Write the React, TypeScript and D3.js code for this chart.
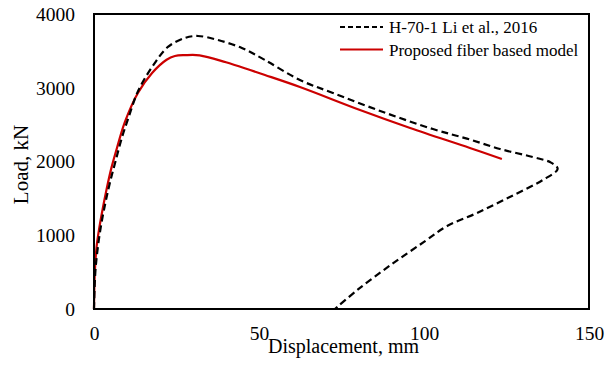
import React, { useEffect, useRef } from 'react';
import * as d3 from 'd3';

// H-70-1 test (Li et al., 2016) - displacement (mm) / load (kN)
const testDisp = [0, 0.4, 1.2, 2.2, 3.5, 4.8, 6.5, 8.5, 10.5, 13.3, 17.6, 22.4, 27.6, 31.5, 37.6, 44.8, 51.8, 62.4, 72.4, 87.6, 102.7, 113, 123, 133, 138.5, 140.5, 136, 126, 116, 107, 100, 90, 80, 73];
const testLoad = [0, 500, 850, 1150, 1450, 1708, 2000, 2330, 2600, 2950, 3281, 3553, 3675, 3702, 3647, 3539, 3376, 3105, 2929, 2671, 2440, 2310, 2170, 2060, 1985, 1900, 1749, 1519, 1300, 1125, 910, 600, 265, 0];

// proposed fiber based model
const modelDisp = [0, 0.25, 0.8, 1.6, 2.6, 3.8, 5.2, 7.0, 9.4, 13.3, 17.6, 22, 24.5, 27.6, 32, 40, 47.3, 51.8, 62.4, 80.6, 95.8, 113.9, 123.6];
const modelLoad = [0, 500, 850, 1100, 1350, 1620, 1900, 2190, 2540, 2929, 3200, 3380, 3430, 3442, 3440, 3345, 3240, 3173, 3010, 2698, 2454, 2183, 2034];

const xTicks = [0, 50, 100, 150];
const yTicks = [0, 1000, 2000, 3000, 4000];

const seriesNames = ['H-70-1 Li et al., 2016', 'Proposed fiber based model'];

const FONT = '"Liberation Serif", "Times New Roman", serif';
const RED = '#cc0000';

export default function App() {
    const svgRef = useRef<SVGSVGElement | null>(null);

    useEffect(() => {
        if (!svgRef.current) return;
        d3.select(svgRef.current).selectAll("*").remove();

        const width = 615;
        const height = 366;
        const margin = { top: 14, right: 26, bottom: 57, left: 94 };
        const innerWidth = width - margin.left - margin.right;
        const innerHeight = height - margin.top - margin.bottom;

        const svg = d3.select(svgRef.current)
            .attr("width", width)
            .attr("height", height);

        const g = svg.append("g")
            .attr("transform", `translate(${margin.left},${margin.top})`);

        const xScale = d3.scaleLinear().domain([0, 150]).range([0, innerWidth]);
        const yScale = d3.scaleLinear().domain([0, 4000]).range([innerHeight, 0]);

        // axes: labels only, no tick marks
        const yAxis = g.append("g")
            .call(d3.axisLeft(yScale).tickValues(yTicks).tickFormat(d3.format("d")).tickSize(0).tickPadding(19));
        yAxis.select(".domain").remove();

        const xAxis = g.append("g")
            .attr("transform", `translate(0,${innerHeight})`)
            .call(d3.axisBottom(xScale).tickValues(xTicks).tickFormat(d3.format("d")).tickSize(0).tickPadding(17));
        xAxis.select(".domain").remove();

        g.selectAll(".tick text")
            .style("font-family", FONT)
            .style("font-size", "19.5px")
            .attr("fill", "#000");

        const line = d3.line<[number, number]>()
            .x(d => xScale(d[0]))
            .y(d => yScale(d[1]))
            .curve(d3.curveCatmullRom.alpha(0.5));

        const testPts = testDisp.map((d, i) => [d, testLoad[i]] as [number, number]);
        const modelPts = modelDisp.map((d, i) => [d, modelLoad[i]] as [number, number]);

        g.append("path")
            .attr("d", line(modelPts))
            .attr("fill", "none")
            .attr("stroke", RED)
            .attr("stroke-width", 2.2);

        g.append("path")
            .attr("d", line(testPts))
            .attr("fill", "none")
            .attr("stroke", "#000")
            .attr("stroke-width", 2.2)
            .attr("stroke-dasharray", "7,4");

        // plot frame
        g.append("rect")
            .attr("x", 0)
            .attr("y", 0)
            .attr("width", innerWidth)
            .attr("height", innerHeight)
            .attr("fill", "none")
            .attr("stroke", "#000")
            .attr("stroke-width", 2);

        // axis titles
        svg.append("text")
            .attr("x", margin.left + innerWidth / 2 + 2)
            .attr("y", 353)
            .attr("text-anchor", "middle")
            .style("font-family", FONT)
            .style("font-size", "20px")
            .text("Displacement, mm");

        svg.append("text")
            .attr("transform", `translate(28,${margin.top + innerHeight / 2 + 3}) rotate(-90)`)
            .attr("text-anchor", "middle")
            .style("font-family", FONT)
            .style("font-size", "21px")
            .text("Load, kN");

        // legend
        const legend = svg.append("g").attr("transform", "translate(340,27)");
        const styles = [
            { stroke: "#000", dash: "5,3" },
            { stroke: RED, dash: null },
        ];
        seriesNames.forEach((name, i) => {
            const row = legend.append("g").attr("transform", `translate(0,${i * 22.5})`);
            row.append("line")
                .attr("x1", 0).attr("x2", 43)
                .attr("y1", 0).attr("y2", 0)
                .attr("stroke", styles[i].stroke)
                .attr("stroke-width", 2)
                .attr("stroke-dasharray", styles[i].dash);
            row.append("text")
                .attr("x", 49)
                .attr("y", 6)
                .style("font-family", FONT)
                .style("font-size", "17px")
                .text(name);
        });
    }, []);

    return (
        <svg ref={svgRef} style={{ position: 'absolute', left: 0, top: 0, background: '#fff' }}></svg>
    );
}
